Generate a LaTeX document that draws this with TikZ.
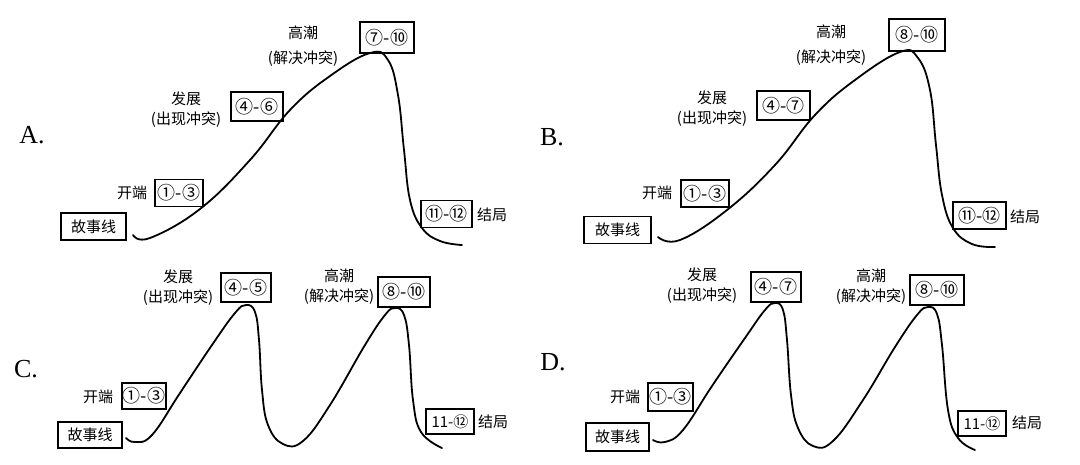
\documentclass[tikz,border=0pt]{standalone}
\usepackage{fontspec}
\setmainfont{Liberation Serif}
\newfontfamily\cjk{Noto Sans CJK SC}
\usepackage{tikz}
\tikzstyle{Box}=[draw,line width=1.3pt,inner sep=0pt,minimum height=27pt,
font=\cjk\fontsize{18}{18}\selectfont]
\tikzstyle{BoxS}=[Box,font=\cjk\fontsize{15}{15}\selectfont]
\tikzstyle{Label}=[font=\cjk\fontsize{15}{20}\selectfont,align=center,inner sep=0pt]
\tikzstyle{Letter}=[font=\fontsize{26}{26}\selectfont,inner sep=0pt]
\tikzstyle{Curve}=[line width=1.8pt,line cap=round]

\begin{document}
\begin{tikzpicture}[x=1pt,y=-1pt]
    \useasboundingbox(0,0)rectangle(1080,464);
        % A
        \node[Letter](lA)at(32,135){A.};
        \node[BoxS,minimum width=65pt](sA)at(93.5,226.5){故事线};
        \node[Box,minimum width=48pt](b1A)at(179,193){①-③};
        \node[Box,minimum width=52pt,minimum height=29pt](b2A)at(257,106.5){④-⑥};
        \node[Box,minimum width=54pt,minimum height=31pt](b3A)at(387,37.5){⑦-⑩};
        \node[Box,minimum width=51pt](b4A)at(446.5,214){⑪-⑫};
        \node[Label](t1A)at(132,193){开端};
        \node[Label](t2A)at(186,110){发展\\(出现冲突)};
        \node[Label](t3A)at(303,46){高潮\\[5pt](解决冲突)};
        \node[Label](t4A)at(492,215){结局};
        \draw[Curve]plot[smooth,tension=0.7]coordinates{(133,235)(150,238)
            (200,209)(250,160)(290,110)(330,76)(370,53)(388,60)(398,95)
            (404,150)(410,200)(422,228)(440,241)(462,245)};
        % B
        \node[Letter](lB)at(552,137){B.};
        \node[BoxS,minimum width=67pt](sB)at(617.5,230){故事线};
        \node[Box,minimum width=48pt](b1B)at(705,193.5){①-③};
        \node[Box,minimum width=53pt,minimum height=29pt](b2B)at(783.5,105.5){④-⑦};
        \node[Box,minimum width=56pt,minimum height=32pt](b3B)at(917,35){⑧-⑩};
        \node[Box,minimum width=53pt](b4B)at(979.5,215.5){⑪-⑫};
        \node[Label](t1B)at(657,193){开端};
        \node[Label](t2B)at(712,109){发展\\(出现冲突)};
        \node[Label](t3B)at(831,45){高潮\\[5pt](解决冲突)};
        \node[Label](t4B)at(1025,217){结局};
        \draw[Curve]plot[smooth,tension=0.7]coordinates{(658,237)(680,240)
            (727,210)(775,165)(815,115)(855,80)(900,52)(918,58)(930,90)
            (936,145)(942,195)(953,228)(972,244)(995,247)};
        % C
        \node[Letter](lC)at(26,369){C.};
        \node[BoxS,minimum width=64pt,minimum height=26pt](sC)at(90,435){故事线};
        \node[Box,minimum width=44pt,minimum height=26pt](b1C)at(144,396){①-③};
        \node[Box,minimum width=50pt,minimum height=29pt](b2C)at(246,287.5){④-⑤};
        \node[Box,minimum width=52pt,minimum height=30pt](b3C)at(404,292){⑧-⑩};
        \node[BoxS,minimum width=48pt,minimum height=25pt](b4C)at(450,421.5){11-⑫};
        \node[Label](t1C)at(98,397){开端};
        \node[Label](t2C)at(178,288){发展\\(出现冲突)};
        \node[Label](t3C)at(339,287){高潮\\(解决冲突)};
        \node[Label](t4C)at(493,422){结局};
        \draw[Curve]plot[smooth,tension=0.7]coordinates{(126,438)(135,442)
            (152,435)(180,393)(212,345)(235,313)(246,305)(255,312)(259,340)
            (262,390)(268,425)(283,444)(303,441)(330,405)(365,345)(385,315)
            (395,308)(404,315)(409,345)(413,400)(421,432)(442,448)};
        % D
        \node[Letter](lD)at(553,362){D.};
        \node[BoxS,minimum width=63pt,minimum height=28pt](sD)at(617.5,437){故事线};
        \node[Box,minimum width=45pt,minimum height=28pt](b1D)at(670.5,397){①-③};
        \node[Box,minimum width=50pt,minimum height=30pt](b2D)at(776,287){④-⑦};
        \node[Box,minimum width=54pt,minimum height=30pt](b3D)at(937,290){⑧-⑩};
        \node[BoxS,minimum width=48pt,minimum height=25pt](b4D)at(982,423.5){11-⑫};
        \node[Label](t1D)at(625,397){开端};
        \node[Label](t2D)at(702,286){发展\\(出现冲突)};
        \node[Label](t3D)at(871,287){高潮\\(解决冲突)};
        \node[Label](t4D)at(1027,423){结局};
        \draw[Curve]plot[smooth,tension=0.7]coordinates{(653,440)(665,442)
            (683,430)(712,386)(745,338)(765,310)(775,303)(783,310)(787,340)
            (791,395)(798,428)(813,446)(833,441)(863,400)(895,347)(917,315)
            (928,307)(937,314)(942,345)(948,410)(958,438)(975,450)};
    \end{tikzpicture}
\end{document}
